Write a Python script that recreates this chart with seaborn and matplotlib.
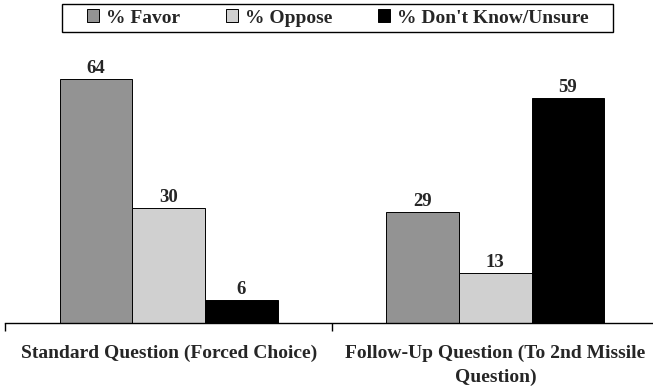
import matplotlib
matplotlib.use("Agg")
import matplotlib.pyplot as plt
from matplotlib.patches import Patch, Rectangle
from matplotlib.ticker import FixedLocator
import seaborn as sns
import pandas as pd

questions = ["Standard Question (Forced Choice)", "Follow-Up Question (To 2nd Missile\nQuestion)"]
responses = ["% Favor", "% Oppose", "% Don't Know/Unsure"]
favor = [64, 29]
oppose = [30, 13]
unsure = [6, 59]
colors = ["#939393", "#d0d0d0", "#000000"]

rows = []
for resp, vals in zip(responses, [favor, oppose, unsure]):
    for q, v in zip(questions, vals):
        rows.append({"question": q, "response": resp, "value": v})
df = pd.DataFrame(rows)

sns.set_theme(style="white")
plt.rcParams["font.family"] = ["Liberation Serif", "DejaVu Serif"]
plt.rcParams["font.weight"] = "bold"

fig = plt.figure(figsize=(6.53, 3.91), dpi=100)
ax = fig.add_axes([5.3 / 653, 1 - 322.7 / 391, 653.4 / 653, 266.5 / 391])

sns.barplot(data=df, x="question", y="value", hue="response",
            order=questions, hue_order=responses, palette=colors,
            width=0.667, gap=0, edgecolor="black", linewidth=0.7,
            legend=False, ax=ax)

for container in ax.containers:
    ax.bar_label(container, fmt="%d", padding=1.5, fontsize=13.5, fontweight="bold")

ax.set_ylim(0, 70)
ax.set_xlim(-0.5, 1.5)
for side in ["left", "right", "top"]:
    ax.spines[side].set_visible(False)
ax.spines["bottom"].set_color("black")
ax.spines["bottom"].set_linewidth(1.0)
ax.set_yticks([])
ax.set_xlabel("")
ax.set_ylabel("")

# Category labels centred under each group, tick marks on the group boundaries
ax.set_xticks([0, 1])
ax.set_xticklabels(questions, fontsize=14, fontweight="bold", linespacing=1.5)
ax.tick_params(axis="x", which="major", length=0, pad=16)
ax.xaxis.set_minor_locator(FixedLocator([-0.5, 0.5, 1.5]))
ax.tick_params(axis="x", which="minor", direction="out", length=6, width=1,
               color="black", bottom=True)

# Legend row inside a plain rectangular box
handles = [Patch(facecolor=c, edgecolor="black", linewidth=0.7) for c in colors]
leg = fig.legend(handles, responses, loc="center left",
                 bbox_to_anchor=(87 / 653, 1 - 18 / 391),
                 ncol=3, frameon=False, fontsize=14,
                 handlelength=0.62, handleheight=0.62, handletextpad=0.36,
                 columnspacing=2.35, borderpad=0, borderaxespad=0)
for t in leg.get_texts():
    t.set_fontweight("bold")
fig.patches.append(Rectangle((62 / 653, 1 - 32 / 391), (613 - 62) / 653, 28 / 391,
                             transform=fig.transFigure, facecolor="white",
                             edgecolor="black", linewidth=1.0, zorder=0))

fig.savefig("out.png", dpi=100)
